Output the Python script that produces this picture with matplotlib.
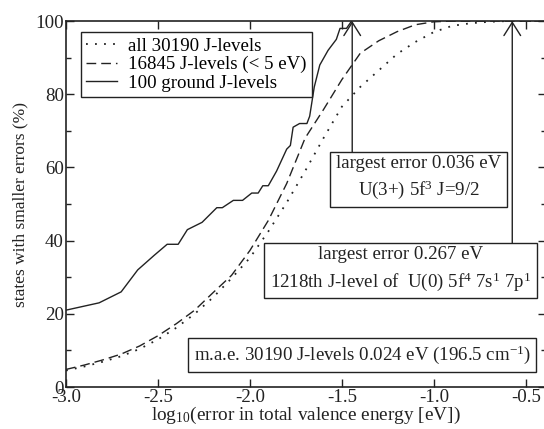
import numpy as np
import matplotlib
matplotlib.use("Agg")
import matplotlib.pyplot as plt

# --------------------------------
# DATA
# --------------------------------

# all 30190 J-levels
dot_x = [-3.0, -2.9, -2.8, -2.7, -2.6, -2.5, -2.4, -2.3, -2.2, -2.1, -2.0,
         -1.9, -1.8, -1.7, -1.6, -1.5, -1.4, -1.3, -1.2, -1.1, -1.0, -0.9,
         -0.8, -0.7, -0.6, -0.5, -0.39]
dot_y = [4.5, 5.6, 6.9, 8.4, 10.4, 13.0, 16.2, 20.0, 24.5, 29.7, 35.3,
         42.5, 50.4, 59.0, 68.0, 76.6, 82.0, 86.5, 91.0, 94.3, 97.0, 98.7,
         99.4, 99.8, 100.0, 100.0, 100.0]

# 16845 J-levels below 5 eV
dash_x = [-3.0, -2.9, -2.8, -2.7, -2.6, -2.5, -2.4, -2.3, -2.2, -2.1, -2.0,
          -1.9, -1.8, -1.7, -1.6, -1.5, -1.4, -1.3, -1.2, -1.1, -1.0, -0.9,
          -0.39]
dash_y = [4.8, 6.0, 7.4, 9.0, 11.2, 14.0, 17.3, 21.0, 25.8, 30.5, 37.3,
          45.5, 55.6, 68.0, 75.8, 84.0, 91.2, 94.6, 97.1, 99.0, 99.8, 100.0,
          100.0]

# 100 ground J-levels
solid_x = [-3.0, -2.82, -2.70, -2.61, -2.52, -2.45, -2.39, -2.34, -2.26,
           -2.18, -2.15, -2.09, -2.04, -1.99, -1.955, -1.93, -1.90, -1.855,
           -1.80, -1.78, -1.765, -1.73, -1.69, -1.675, -1.65, -1.62, -1.575,
           -1.53, -1.51, -1.475, -1.447]
solid_y = [21, 23, 26, 32, 36, 39, 39, 43, 45, 49, 49, 51, 51, 53, 53, 55,
           55, 59, 65, 66, 71, 72, 72, 74, 82, 88, 92, 95, 98, 98, 100]

labels = ["all 30190 J-levels", "16845 J-levels (< 5 eV)",
          "100 ground J-levels"]

# largest errors (eV)
err_ion = 0.036
err_all = 0.267

# --------------------------------
# STYLE
# --------------------------------

plt.rcParams["font.family"] = "Liberation Serif"
plt.rcParams["mathtext.fontset"] = "custom"
plt.rcParams["mathtext.rm"] = "Liberation Serif"
plt.rcParams["mathtext.it"] = "Liberation Serif:italic"
plt.rcParams["axes.unicode_minus"] = False

fs = 13.6
ink = "#222222"

# --------------------------------
# FIGURE
# --------------------------------

fig = plt.figure(figsize=(5.44, 4.29), dpi=100)
ax = fig.add_axes([0.1213, 0.0979, 0.8824, 0.853])

ax.plot(dot_x, dot_y, color=ink, lw=1.3, linestyle=(0, (1, 4)),
        label=labels[0])
ax.plot(dash_x, dash_y, color=ink, lw=1.0, linestyle=(0, (7, 3.6)),
        label=labels[1])
ax.plot(solid_x, solid_y, color=ink, lw=1.0, label=labels[2])

ax.set_xlim(-3.0, -0.39)
ax.set_ylim(0, 100)

ax.set_xticks([-3.0, -2.5, -2.0, -1.5, -1.0, -0.5])
ax.set_xticklabels(["-3.0", "-2.5", "-2.0", "-1.5", "-1.0", "-0.5"])
ax.set_yticks([0, 20, 40, 60, 80, 100])
ax.set_yticks([10, 30, 50, 70, 90], minor=True)

ax.tick_params(which="both", direction="in", top=True, right=True,
               labelsize=fs, colors=ink, width=1.0)
ax.tick_params(which="major", length=6, pad=1.5)
ax.tick_params(which="minor", length=3.5)
for s in ax.spines.values():
    s.set_linewidth(1.2)
    s.set_color(ink)

ax.set_xlabel("log$_{10}$(error in total valence energy [eV])",
              fontsize=13.9, color=ink, labelpad=-1)
ax.set_ylabel("states with smaller errors (%)", fontsize=12.5, color=ink,
              labelpad=5)

# --------------------------------
# LEGEND
# --------------------------------

leg = ax.legend(loc="upper left", bbox_to_anchor=(0.031, 0.97),
                borderaxespad=0, fontsize=13.6, frameon=True, fancybox=False,
                framealpha=1, edgecolor=ink, borderpad=0.28,
                labelspacing=0.08, handlelength=1.65, handletextpad=0.55)
leg.get_frame().set_linewidth(1.0)

# --------------------------------
# ARROWS AND BOXES
# --------------------------------

box = dict(boxstyle="square,pad=0.3", fc="white", ec=ink, lw=1.0)
arrow = dict(arrowstyle="->,head_length=0.95,head_width=0.6", color=ink,
             lw=1.0, shrinkA=0, shrinkB=0, mutation_scale=10)

for err, y0 in [(err_ion, 57), (err_all, 32)]:
    ax.annotate("", xy=(np.log10(err), 100), xytext=(np.log10(err), y0),
                arrowprops=arrow, zorder=3)

ax.text(-1.082, 57.0,
        "largest error %.3f eV\nU(3+) 5f$^3$ J=9/2" % err_ion,
        fontsize=fs, ha="center", va="center", linespacing=1.4,
        color=ink, bbox=box, zorder=5)
ax.text(-1.182, 32.1,
        "largest error %.3f eV\n1218th J-level of  U(0) 5f$^4$ 7s$^1$ 7p$^1$"
        % err_all,
        fontsize=fs, ha="center", va="center", linespacing=1.4,
        color=ink, bbox=box, zorder=5)
ax.text(-1.389, 8.7,
        "m.a.e. 30190 J-levels 0.024 eV (196.5 cm$^{-1}$)",
        fontsize=fs, ha="center", va="center", color=ink, bbox=box,
        zorder=5)

fig.savefig("out.png", dpi=100)
